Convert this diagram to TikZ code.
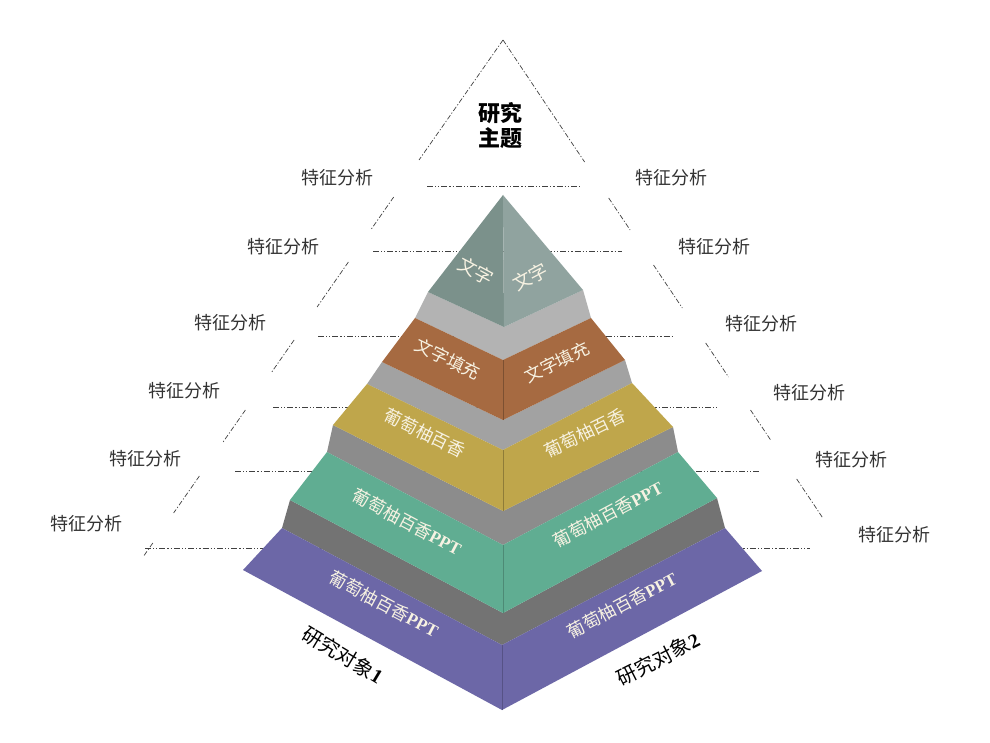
\documentclass[tikz,border=0pt]{standalone}
\usepackage{fontspec}
\setmainfont{Liberation Serif}
\newfontfamily\cjk{Noto Sans CJK SC}
\definecolor{pyrL}{HTML}{7B918B}
\definecolor{pyrR}{HTML}{90A39F}
\definecolor{brownc}{HTML}{A66A41}
\definecolor{goldc}{HTML}{BFA64B}
\definecolor{greenc}{HTML}{60AD92}
\definecolor{purplec}{HTML}{6C67A7}
\definecolor{gA}{HTML}{B3B3B3}
\definecolor{gB}{HTML}{A2A2A2}
\definecolor{gC}{HTML}{8C8C8C}
\definecolor{gD}{HTML}{737373}
\definecolor{facecream}{HTML}{F7F2E2}
\tikzset{
  guide/.style={draw=black!75, line width=0.7pt, dash pattern=on 6pt off 2pt on 1.2pt off 2pt on 1.2pt off 2pt},
  slant/.style={draw=black!75, line width=0.7pt, dash pattern=on 5pt off 2pt on 1.2pt off 2pt},
  feat/.style={font=\cjk\fontsize{18}{20}\selectfont, text=black!80, inner sep=0pt},
  facetxt/.style={font=\cjk\fontsize{17.5}{19}\selectfont, text=facecream, inner sep=0pt},
  pyrtxt/.style={font=\cjk\fontsize{18.5}{20}\selectfont, text=facecream, inner sep=0pt},
  objtxt/.style={font=\cjk\fontsize{20}{22}\selectfont, text=black, inner sep=0pt},
}
\newcommand{\ppt}{{\rmfamily\bfseries PPT}}
\begin{document}
\begin{tikzpicture}[x=1pt,y=-1pt]
\useasboundingbox (0,0) rectangle (990,743);
\fill[white] (0,0) rectangle (990,743);

% horizontal guide lines
\draw[guide] (427,186) -- (582,186);
\draw[guide] (373,251) -- (622,251);
\draw[guide] (318,336) -- (672,336);
\draw[guide] (273,407) -- (717,407);
\draw[guide] (235,471) -- (760,471);
\draw[guide] (145,548) -- (810,548);

% slanted outer triangle segments (left)
\draw[slant] (503,40) -- (419,160);
\draw[slant] (393.7,197) -- (370.7,230);
\draw[slant] (348.4,262) -- (317.1,307);
\draw[slant] (294.1,340) -- (271.1,373);
\draw[slant] (245.4,410) -- (223.1,442);
\draw[slant] (199.4,476) -- (173.6,513);
\draw[slant] (152.8,543) -- (143.0,557);
% (right)
\draw[slant] (503,40) -- (584.6,162);
\draw[slant] (608.7,198) -- (630.1,230);
\draw[slant] (653.5,265) -- (682.3,308);
\draw[slant] (705.7,343) -- (728.5,377);
\draw[slant] (750.5,410) -- (771.3,441);
\draw[slant] (796.7,479) -- (822.8,518);

% vertices
\coordinate (ap) at (503,195);
\coordinate (yL) at (428,292);
\coordinate (yF) at (504,327);
\coordinate (yR) at (583,290);

\coordinate (bLt) at (415,318); \coordinate (bLb) at (382,362);
\coordinate (bFt) at (503,360); \coordinate (bFb) at (503,420);
\coordinate (bRt) at (591,318); \coordinate (bRb) at (625,360);

\coordinate (oLt) at (367,384); \coordinate (oLb) at (333,425);
\coordinate (oFt) at (503,450); \coordinate (oFb) at (503,511);
\coordinate (oRt) at (632,383); \coordinate (oRb) at (673,427);

\coordinate (gLt) at (327,452); \coordinate (gLb) at (290,500);
\coordinate (gFt) at (503,545); \coordinate (gFb) at (503,613);
\coordinate (gRt) at (678,452); \coordinate (gRb) at (717,498);

\coordinate (pLt) at (282,528); \coordinate (pLb) at (243,570);
\coordinate (pFt) at (502,645); \coordinate (pFb) at (502,710);
\coordinate (pRt) at (725,528); \coordinate (pRb) at (762,571);

% purple layer
\fill[gD] (pLt) -- (gLb) -- (gFb) -- (gRb) -- (pRt) -- (pFt) -- cycle;
\fill[purplec] (pLt) -- (pFt) -- (pFb) -- (pLb) -- cycle;
\fill[purplec] (pFt) -- (pRt) -- (pRb) -- (pFb) -- cycle;
\draw[purplec!80!black, line width=0.5pt] (pFt) -- (pFb);

% green layer
\fill[gC] (gLt) -- (oLb) -- (oFb) -- (oRb) -- (gRt) -- (gFt) -- cycle;
\fill[greenc] (gLt) -- (gFt) -- (gFb) -- (gLb) -- cycle;
\fill[greenc] (gFt) -- (gRt) -- (gRb) -- (gFb) -- cycle;
\draw[greenc!80!black, line width=0.5pt] (gFt) -- (gFb);

% gold layer
\fill[gB] (oLt) -- (bLb) -- (bFb) -- (bRb) -- (oRt) -- (oFt) -- cycle;
\fill[goldc] (oLt) -- (oFt) -- (oFb) -- (oLb) -- cycle;
\fill[goldc] (oFt) -- (oRt) -- (oRb) -- (oFb) -- cycle;
\draw[goldc!75!black, line width=0.5pt] (oFt) -- (oFb);

% brown layer
\fill[gA] (bLt) -- (yL) -- (yF) -- (yR) -- (bRt) -- (bFt) -- cycle;
\fill[brownc] (bLt) -- (bFt) -- (bFb) -- (bLb) -- cycle;
\fill[brownc] (bFt) -- (bRt) -- (bRb) -- (bFb) -- cycle;
\draw[brownc!75!black, line width=0.5pt] (bFt) -- (bFb);

% top pyramid
\fill[pyrL] (ap) -- (yL) -- (yF) -- cycle;
\fill[pyrR] (ap) -- (yF) -- (yR) -- cycle;

% face texts
\node[pyrtxt, rotate=-28] (t1l) at (476,271) {文字};
\node[pyrtxt, rotate=28] (t1r) at (530,277) {文字};
\node[facetxt, rotate=-26] (t2l) at (448,359) {文字填充};
\node[facetxt, rotate=26] (t2r) at (557,362) {文字填充};
\node[facetxt, rotate=-26] (t3l) at (425,433) {葡萄柚百香};
\node[facetxt, rotate=26] (t3r) at (585,433) {葡萄柚百香};
\node[facetxt, rotate=-28] (t4l) at (407,522) {葡萄柚百香\ppt};
\node[facetxt, rotate=28] (t4r) at (608,514) {葡萄柚百香\ppt};
\node[facetxt, rotate=-28] (t5l) at (384,604) {葡萄柚百香\ppt};
\node[facetxt, rotate=28] (t5r) at (622,605) {葡萄柚百香\ppt};

% bottom labels
\node[objtxt, rotate=-31] (obj1) at (343,655) {研究对象{\rmfamily\bfseries 1}};
\node[objtxt, rotate=27] (obj2) at (658,659) {研究对象{\rmfamily\bfseries 2}};

% topic
\node[font=\cjk\bfseries\fontsize{22}{25}\selectfont, align=center, inner sep=0pt] (topic) at (500,126) {研究\\主题};

% feature labels
\node[feat] (fl1) at (337,178) {特征分析};
\node[feat] (fl2) at (283,247) {特征分析};
\node[feat] (fl3) at (230,323) {特征分析};
\node[feat] (fl4) at (184,391) {特征分析};
\node[feat] (fl5) at (145,459) {特征分析};
\node[feat] (fl6) at (86,524) {特征分析};
\node[feat] (fr1) at (671,178) {特征分析};
\node[feat] (fr2) at (714,247) {特征分析};
\node[feat] (fr3) at (761,324) {特征分析};
\node[feat] (fr4) at (809,393) {特征分析};
\node[feat] (fr5) at (851,460) {特征分析};
\node[feat] (fr6) at (894,535) {特征分析};
\end{tikzpicture}
\end{document}
